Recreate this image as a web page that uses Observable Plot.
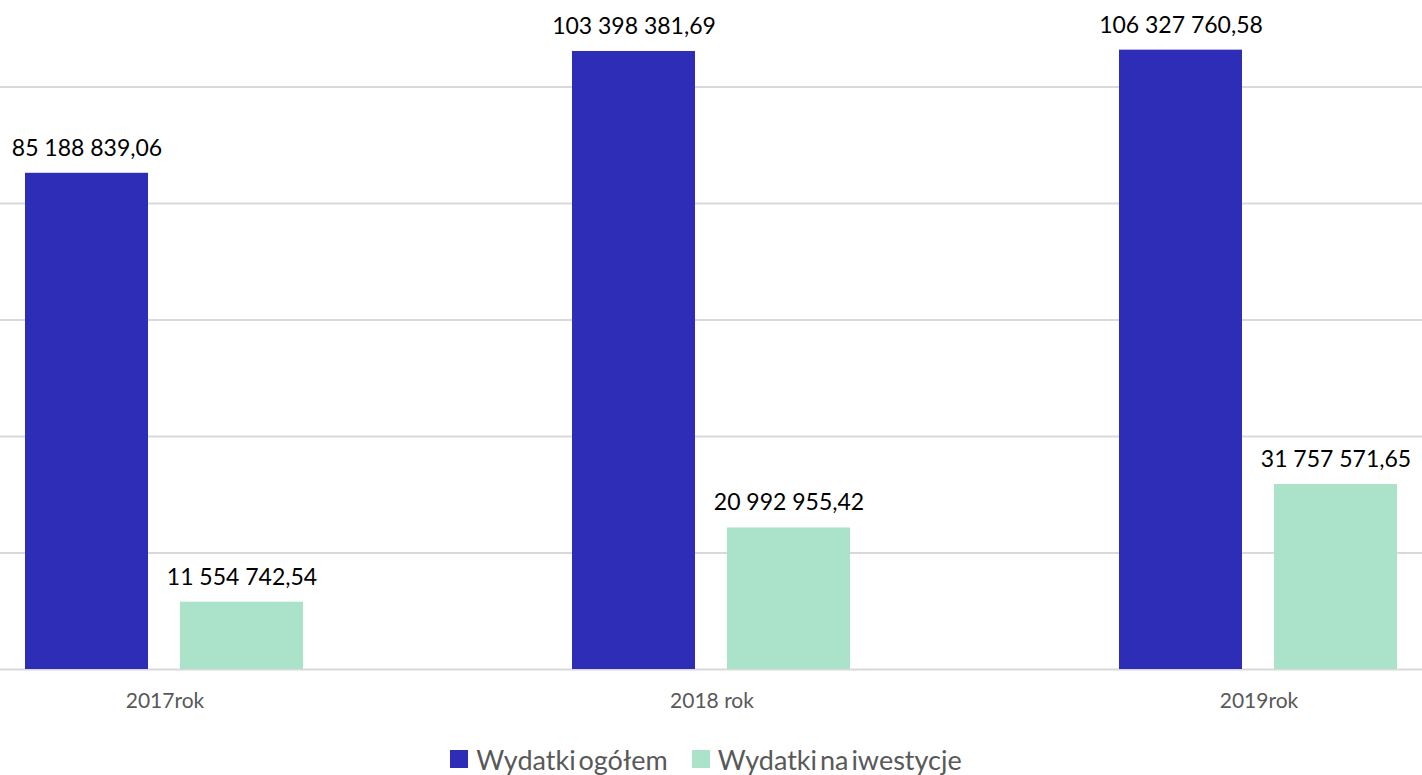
<!DOCTYPE html>
<html>
<head>
<meta charset="utf-8">
<script src="https://cdn.jsdelivr.net/npm/d3@7"></script>
<script src="https://cdn.jsdelivr.net/npm/@observablehq/plot@0.6"></script>
<style>
  html, body { margin: 0; padding: 0; background: #fff; }
  body { width: 1422px; height: 775px; overflow: hidden; font-family: Lato, "Open Sans", sans-serif; }
  #chart svg { display: block; }
  #legend { display: flex; justify-content: center; align-items: center; height: 38px; margin-top: 20px; gap: 24px; color: #595959; font-size: 27px; word-spacing: -4px; padding-right: 10px; }
  #legend .item { display: flex; align-items: center; gap: 8px; }
  #legend .sw { width: 18px; height: 18px; display: inline-block; }
</style>
</head>
<body>
<div id="chart"></div>
<div id="legend"></div>
<script>
const years = ["2017rok", "2018 rok", "2019rok"];
const seriesNames = ["Wydatki ogółem", "Wydatki na iwestycje"];
// printed data labels
const totalLabels = [85188839.06, 103398381.69, 106327760.58];
const investLabels = [11554742.54, 20992955.42, 31757571.65];
// bar heights as drawn in the picture
const totalHeights = [85188839.06, 106100000, 106327760.58];
const investHeights = [11554742.54, 24300000, 31757571.65];
const gridTicks = [0, 20e6, 40e6, 60e6, 80e6, 100e6];
const colors = ["#2E2DB7", "#ABE3CA"];

const data = [];
years.forEach((yr, i) => {
  data.push({year: yr, series: seriesNames[0], value: totalHeights[i], label: totalLabels[i]});
  data.push({year: yr, series: seriesNames[1], value: investHeights[i], label: investLabels[i]});
});

const pl = d3.formatLocale({decimal: ",", thousands: " ", grouping: [3], currency: ["", ""]});
const fmt = pl.format(",.2f");

const chart = Plot.plot({
  width: 1422,
  height: 720,
  marginTop: 0,
  marginBottom: 51,
  marginLeft: 0,
  marginRight: 0,
  style: {fontFamily: "Lato, 'Open Sans', sans-serif", background: "#fff"},
  fx: {domain: years, range: [-110.25, 1532.25], paddingInner: 0, paddingOuter: 0, label: null},
  x: {domain: seriesNames, range: [134, 413], paddingInner: 0.205, paddingOuter: 0, axis: null},
  y: {domain: [0, 114.85e6], axis: null},
  color: {domain: seriesNames, range: colors},
  marks: [
    Plot.ruleY(gridTicks, {stroke: "#D9D9D9", strokeWidth: 2}),
    Plot.barY(data, {fx: "year", x: "series", y: "value", fill: "series"}),
    Plot.text(data, {fx: "year", x: "series", y: "value", text: d => fmt(d.label), dy: -25, fontSize: 23, fill: "#000", textAnchor: "middle", lineAnchor: "middle"}),
    Plot.axisFx({anchor: "bottom", tickSize: 0, tickPadding: 24, fontSize: 21, fill: "#595959", label: null})
  ]
});
document.getElementById("chart").appendChild(chart);

const legend = document.getElementById("legend");
seriesNames.forEach((name, i) => {
  const item = document.createElement("span");
  item.className = "item";
  const sw = document.createElement("span");
  sw.className = "sw";
  sw.style.background = colors[i];
  const lab = document.createElement("span");
  lab.textContent = name;
  item.appendChild(sw);
  item.appendChild(lab);
  legend.appendChild(item);
});
</script>
</body>
</html>
